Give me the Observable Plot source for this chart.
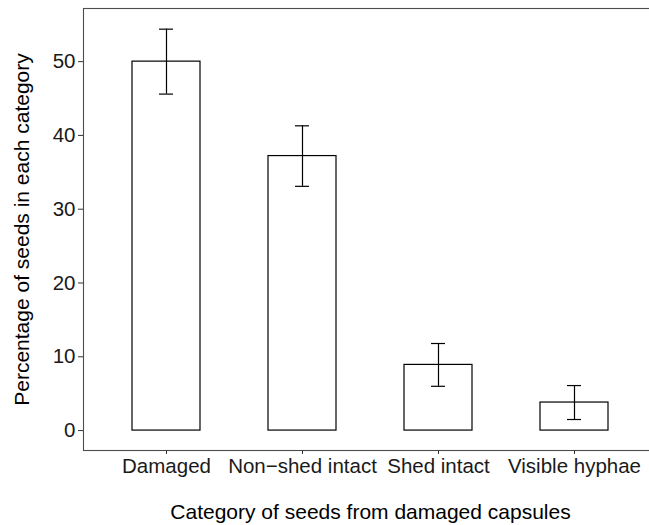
<!DOCTYPE html>
<html>
<head>
<meta charset="utf-8">
<script src="https://cdn.jsdelivr.net/npm/d3@7"></script>
<script src="https://cdn.jsdelivr.net/npm/@observablehq/plot@0.6"></script>
<style>
html, body { margin: 0; padding: 0; background: white; overflow: hidden; }
svg { overflow: hidden; }
</style>
</head>
<body>
<div id="chart"></div>
<script>
const categories = ["Damaged", "Non\u2212shed intact", "Shed intact", "Visible hyphae"];
const percentages = [50.0, 37.2, 8.9, 3.8];
const lowerErr = [45.6, 33.1, 6.0, 1.5];
const upperErr = [54.4, 41.3, 11.8, 6.1];
const yTicks = [0, 10, 20, 30, 40, 50];
const xTitle = "Category of seeds from damaged capsules";
const yTitle = "Percentage of seeds in each category";

const data = categories.map((c, i) => ({cat: c, value: percentages[i], lo: lowerErr[i], hi: upperErr[i]}));

const font = "'Liberation Sans', Arial, Helvetica, sans-serif";

const chart = Plot.plot({
  width: 649,
  height: 525,
  marginLeft: 83,
  marginRight: -8,
  marginTop: 8,
  marginBottom: 75,
  style: {fontFamily: font, background: "white", overflow: "hidden"},
  x: {type: "band", domain: categories, paddingInner: 0.5, paddingOuter: 0.35, align: 0.5},
  y: {domain: [-2.7, 57.2]},
  marks: [
    Plot.frame({stroke: "#4d4d4d", strokeWidth: 1.1}),
    Plot.barY(data, {x: "cat", y: "value", fill: "white", stroke: "black", strokeWidth: 1.2}),
    Plot.ruleX(data, {x: "cat", y1: "lo", y2: "hi", stroke: "black", strokeWidth: 1.2}),
    Plot.tickY(data, {x: "cat", y: "lo", stroke: "black", strokeWidth: 1.2, insetLeft: 27, insetRight: 27}),
    Plot.tickY(data, {x: "cat", y: "hi", stroke: "black", strokeWidth: 1.2, insetLeft: 27, insetRight: 27}),
    Plot.axisY({ticks: yTicks, tickSize: 5, tickPadding: 3, fontSize: 20.5, label: null, stroke: "#333", fill: "#1a1a1a"}),
    Plot.axisX({tickSize: 4, tickPadding: 4, fontSize: 20.5, label: null, stroke: "#333", fill: "#1a1a1a"}),
    Plot.text([xTitle], {frameAnchor: "bottom", dy: 62, text: d => d, fontSize: 21, fill: "black", lineAnchor: "middle", textAnchor: "middle"}),
    Plot.text([yTitle], {frameAnchor: "left", dx: -61, rotate: -90, text: d => d, fontSize: 21, fill: "black", lineAnchor: "middle", textAnchor: "middle"})
  ]
});
document.getElementById("chart").appendChild(chart);
</script>
</body>
</html>
